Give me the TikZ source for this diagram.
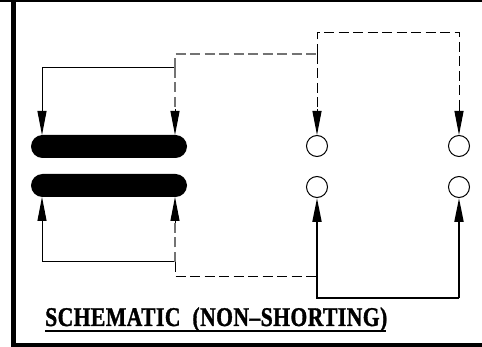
\documentclass[tikz,border=0pt]{standalone}
\usepackage{fontspec}
\newfontfamily\titlefont[FakeStretch=0.8,FakeBold=1.2,LetterSpace=1.7]{Liberation Serif}
\usetikzlibrary{arrows.meta,shapes.misc}
\tikzset{
  contactbar/.style={rounded rectangle, fill=black, draw=none, minimum width=156pt, minimum height=23pt, inner sep=0pt},
  contactpin/.style={circle, draw=black, line width=1pt, fill=white, minimum size=21pt, inner sep=0pt},
  wire/.style={black, line width=1pt},
  heavywire/.style={black, line width=1.9pt},
  dashwire/.style={black, line width=0.9pt, dash pattern=on 10pt off 4.5pt},
  greywire/.style={black!55, line width=1.2pt, dash pattern=on 10pt off 4.5pt},
  tip/.style={-{Triangle[length=24pt,width=9pt]}}
}
\begin{document}
\begin{tikzpicture}
  [x=1pt, y=-1pt]
  \useasboundingbox (0,0) rectangle (482,347);

  % Frame
  \fill[black] (0,0) rectangle (482,2.5);
  \fill[black] (11,0) rectangle (15.5,347);
  \fill[black] (11,343) rectangle (482,347);

  % Contact bars
  \node[contactbar] (barA) at (109,146.5) {};
  \node[contactbar] (barB) at (109,185.5) {};

  % Contact pins
  \node[contactpin] (pinA) at (317,146) {};
  \node[contactpin] (pinB) at (459,146) {};
  \node[contactpin] (pinC) at (317,187) {};
  \node[contactpin] (pinD) at (459,187) {};

  % Points on the bars
  \coordinate (tipA) at (42,135);
  \coordinate (tipB) at (175,135);
  \coordinate (tipC) at (42,197);
  \coordinate (tipD) at (175,197);

  % Wire corners
  \coordinate (upL) at (42,68);
  \coordinate (upR) at (175,68);
  \coordinate (upT) at (175,54);
  \coordinate (upM) at (317,54);
  \coordinate (upX) at (317,32);
  \coordinate (upY) at (459,32);
  \coordinate (loL) at (42,262);
  \coordinate (loR) at (175,262);
  \coordinate (loT) at (175,276);
  \coordinate (loM) at (317,276);
  \coordinate (loX) at (317,298);
  \coordinate (loY) at (459,298);

  % Arrow stubs
  \coordinate (stubB) at (175,109);
  \coordinate (stubD) at (175,223);
  \coordinate (stubP) at (317,109);
  \coordinate (stubQ) at (459,109);

  % Upper wires
  \draw[wire, tip] (upR) -- (upL) -- (tipA);
  \draw[greywire] (upR) -- (upT) -- (upM);
  \draw[greywire] (upR) -- (stubB);
  \draw[wire, tip] (stubB) -- (tipB);
  \draw[dashwire] (upM) -- (stubP);
  \draw[wire, tip] (stubP) -- (pinA.north);
  \draw[dashwire] (upM) -- (upX) -- (upY) -- (stubQ);
  \draw[wire, tip] (stubQ) -- (pinB.north);

  % Lower wires
  \draw[wire, tip] (loR) -- (loL) -- (tipC);
  \draw[greywire] (loR) -- (stubD);
  \draw[wire, tip] (stubD) -- (tipD);
  \draw[dashwire] (loR) -- (loT) -- (loM);
  \draw[heavywire] (loM) -- (loX) -- (loY);
  \draw[heavywire, tip] (loM) -- (pinC.south);
  \draw[heavywire, tip] (loY) -- (pinD.south);

  % Title
  \node[anchor=base west, inner sep=0pt, font=\titlefont\bfseries\fontsize{27}{27}\selectfont] (title) at (45,326) {SCHEMATIC\hspace{12pt}(NON–SHORTING)};
  \draw[black, line width=1.3pt] (45,331) -- (386,331);
\end{tikzpicture}
\end{document}
